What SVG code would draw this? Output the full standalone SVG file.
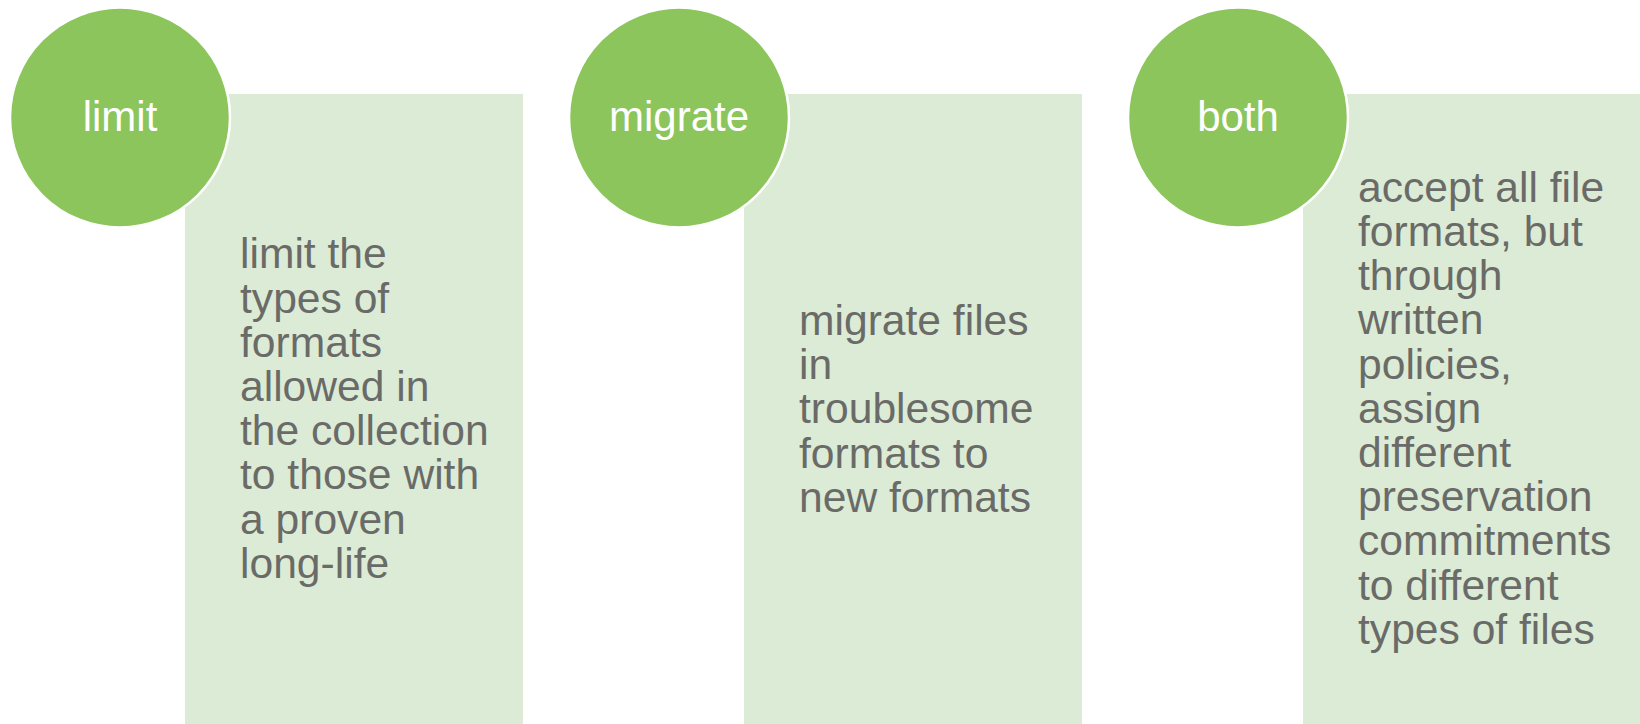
<svg xmlns="http://www.w3.org/2000/svg" width="1640" height="724" viewBox="0 0 1640 724">
  <style>
    .box { fill: #DCEBD5; }
    .circ { fill: #8CC55B; stroke: #FFFFFF; stroke-width: 2.5; }
    .head { font-family: "Liberation Sans", Arial, sans-serif; font-size: 42px; fill: #FFFFFF; text-anchor: middle; }
    .body { font-family: "Liberation Sans", Arial, sans-serif; font-size: 42.6px; fill: #6A6B68; }
  </style>
  <rect x="0" y="0" width="1640" height="724" fill="#FFFFFF"/>

  <g id="node-limit">
    <rect class="box" x="185" y="94" width="338" height="660"/>
    <circle class="circ" cx="120" cy="117.5" r="110"/>
    <text class="head" x="120" y="131">limit</text>
    <text class="body" x="240" y="268.3">
      <tspan x="240" y="268.3">limit the</tspan>
      <tspan x="240" y="312.5">types of</tspan>
      <tspan x="240" y="356.7">formats</tspan>
      <tspan x="240" y="400.9">allowed in</tspan>
      <tspan x="240" y="445.1">the collection</tspan>
      <tspan x="240" y="489.3">to those with</tspan>
      <tspan x="240" y="533.5">a proven</tspan>
      <tspan x="240" y="577.7">long-life</tspan>
    </text>
  </g>

  <g id="node-migrate">
    <rect class="box" x="744" y="94" width="338" height="660"/>
    <circle class="circ" cx="679" cy="117.5" r="110"/>
    <text class="head" x="679" y="131">migrate</text>
    <text class="body" x="799" y="335">
      <tspan x="799" y="335">migrate files</tspan>
      <tspan x="799" y="379.2">in</tspan>
      <tspan x="799" y="423.4">troublesome</tspan>
      <tspan x="799" y="467.6">formats to</tspan>
      <tspan x="799" y="511.8">new formats</tspan>
    </text>
  </g>

  <g id="node-both">
    <rect class="box" x="1303" y="94" width="338" height="660"/>
    <circle class="circ" cx="1238" cy="117.5" r="110"/>
    <text class="head" x="1238" y="131">both</text>
    <text class="body" x="1358" y="201.7">
      <tspan x="1358" y="201.7">accept all file</tspan>
      <tspan x="1358" y="245.9">formats, but</tspan>
      <tspan x="1358" y="290.1">through</tspan>
      <tspan x="1358" y="334.3">written</tspan>
      <tspan x="1358" y="378.5">policies,</tspan>
      <tspan x="1358" y="422.7">assign</tspan>
      <tspan x="1358" y="466.9">different</tspan>
      <tspan x="1358" y="511.1">preservation</tspan>
      <tspan x="1358" y="555.3">commitments</tspan>
      <tspan x="1358" y="599.5">to different</tspan>
      <tspan x="1358" y="643.7">types of files</tspan>
    </text>
  </g>

  <g id="connectors"></g>
</svg>
